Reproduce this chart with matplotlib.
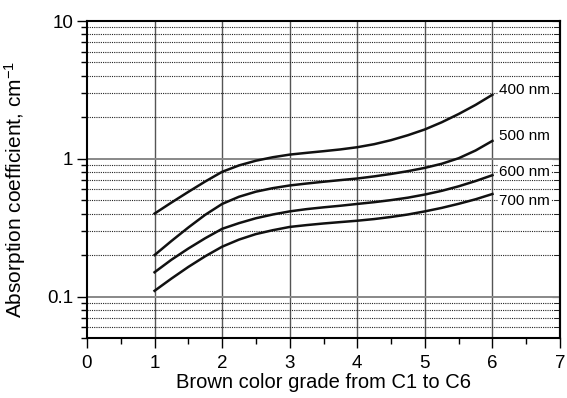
import matplotlib
matplotlib.use("Agg")
import matplotlib.pyplot as plt
from matplotlib.ticker import LogLocator, FixedLocator, NullFormatter, FixedFormatter

plt.rcParams['font.family'] = ['Liberation Sans', 'DejaVu Sans']
plt.rcParams['mathtext.fontset'] = 'custom'
plt.rcParams['mathtext.rm'] = 'Liberation Sans'
plt.rcParams['mathtext.it'] = 'Liberation Sans:italic'
plt.rcParams['mathtext.default'] = 'regular'

grade = [1, 1.25, 1.5, 1.75, 2, 2.25, 2.5, 2.75, 3, 3.25, 3.5, 3.75, 4,
         4.25, 4.5, 4.75, 5, 5.25, 5.5, 5.75, 6]
a400 = [0.400, 0.481, 0.575, 0.684, 0.804, 0.895, 0.968, 1.026, 1.072, 1.104, 1.135,
        1.169, 1.213, 1.276, 1.365, 1.483, 1.633, 1.841, 2.113, 2.460, 2.917]
a500 = [0.200, 0.253, 0.317, 0.392, 0.470, 0.530, 0.577, 0.612, 0.640, 0.661, 0.681,
        0.700, 0.719, 0.745, 0.776, 0.813, 0.859, 0.920, 1.009, 1.148, 1.349]
a600 = [0.150, 0.185, 0.223, 0.265, 0.310, 0.341, 0.370, 0.394, 0.415, 0.431, 0.444,
        0.456, 0.470, 0.484, 0.501, 0.522, 0.550, 0.585, 0.631, 0.689, 0.760]
a700 = [0.110, 0.135, 0.164, 0.196, 0.230, 0.259, 0.284, 0.303, 0.320, 0.330, 0.339,
        0.347, 0.355, 0.365, 0.378, 0.394, 0.415, 0.440, 0.471, 0.508, 0.555]
series = [(a400, "400 nm", 3.16), (a500, "500 nm", 1.47), (a600, "600 nm", 0.805), (a700, "700 nm", 0.49)]

fig = plt.figure(figsize=(5.67, 3.98), dpi=100)
ax = fig.add_axes([0.1534, 0.1508, 0.8343, 0.7964])
ax.set_yscale('log')
ax.set_xlim(0, 7)
ax.set_ylim(0.05, 10)

# grid
for x in range(1, 7):
    ax.axvline(x, color='#555555', lw=1.0, zorder=1)
for v in [0.1, 1]:
    ax.axhline(v, color='#888888', lw=1.4, zorder=1)
for dec in [0.01, 0.1, 1]:
    for m in range(2, 10):
        v = dec * m
        if 0.05 <= v < 10:
            ax.axhline(v, color='#222222', lw=0.8, ls=(0, (1, 1)), zorder=1)

for vals, lab, ly in series:
    ax.plot(grade, vals, color='#111111', lw=1.8, zorder=3, solid_joinstyle='round')
    ax.text(6.1, ly, lab, fontsize=11, va='center', ha='left', zorder=4,
            bbox=dict(facecolor='white', edgecolor='none', pad=1.0))

ax.xaxis.set_major_locator(FixedLocator(range(0, 8)))
ax.xaxis.set_minor_locator(FixedLocator([0.5 + i for i in range(7)]))
ax.yaxis.set_major_locator(FixedLocator([0.1, 1, 10]))
ax.yaxis.set_major_formatter(FixedFormatter(['0.1', '1', '10']))
ax.yaxis.set_minor_locator(LogLocator(base=10, subs=range(2, 10)))
ax.yaxis.set_minor_formatter(NullFormatter())

ax.tick_params(which='major', direction='out', length=7, width=1.0, labelsize=13.5)
ax.tick_params(which='minor', direction='out', length=4, width=1.0)
ax.tick_params(axis='x', which='major', pad=5)
ax.tick_params(axis='y', which='major', pad=3)

sec = ax.secondary_yaxis('right')
sec.set_yscale('log')
sec.yaxis.set_major_locator(FixedLocator([0.1, 1, 10]))
sec.yaxis.set_minor_locator(LogLocator(base=10, subs=range(2, 10)))
sec.tick_params(which='both', direction='in', labelright=False)
sec.tick_params(which='major', length=6)
sec.tick_params(which='minor', length=4)
sec.yaxis.set_major_formatter(NullFormatter())
sec.yaxis.set_minor_formatter(NullFormatter())
sec.spines['right'].set_linewidth(1.5)

for s in ax.spines.values():
    s.set_linewidth(1.5)

ax.set_xlabel("Brown color grade from C1 to C6", fontsize=14.5, labelpad=1)
ax.set_ylabel("Absorption coefficient, cm$^{-1}$", fontsize=15)
ax.yaxis.set_label_coords(-0.125, 0.47)

fig.savefig("out.png", dpi=100)
